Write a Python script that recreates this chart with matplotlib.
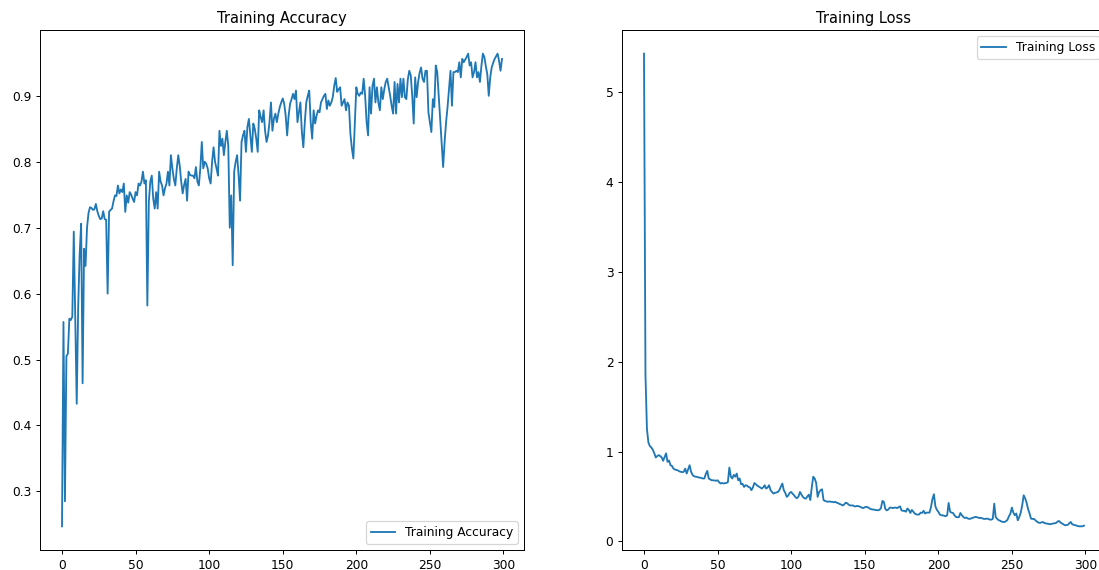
import matplotlib
matplotlib.use('Agg')
import matplotlib.pyplot as plt

# values, one per epoch
acc = [
	0.247, 0.557, 0.285, 0.505, 0.509, 0.562, 0.560, 0.565, 0.694, 0.560,
	0.433, 0.580, 0.660, 0.706, 0.464, 0.668, 0.642, 0.700, 0.722, 0.731,
	0.730, 0.727, 0.728, 0.736, 0.725, 0.718, 0.713, 0.714, 0.725, 0.713,
	0.712, 0.600, 0.724, 0.727, 0.729, 0.740, 0.749, 0.748, 0.764, 0.752,
	0.758, 0.754, 0.767, 0.724, 0.749, 0.738, 0.754, 0.750, 0.744, 0.739,
	0.754, 0.749, 0.767, 0.764, 0.770, 0.785, 0.767, 0.772, 0.582, 0.739,
	0.770, 0.779, 0.744, 0.729, 0.754, 0.729, 0.785, 0.770, 0.764, 0.749,
	0.760, 0.767, 0.785, 0.764, 0.810, 0.790, 0.774, 0.764, 0.790, 0.810,
	0.794, 0.770, 0.752, 0.765, 0.774, 0.741, 0.785, 0.780, 0.779, 0.779,
	0.775, 0.792, 0.770, 0.764, 0.790, 0.830, 0.790, 0.800, 0.797, 0.790,
	0.775, 0.767, 0.800, 0.822, 0.800, 0.790, 0.779, 0.847, 0.824, 0.835,
	0.810, 0.830, 0.847, 0.824, 0.700, 0.749, 0.643, 0.785, 0.800, 0.810,
	0.780, 0.741, 0.830, 0.840, 0.847, 0.815, 0.853, 0.865, 0.840, 0.815,
	0.858, 0.850, 0.835, 0.815, 0.878, 0.868, 0.860, 0.878, 0.847, 0.830,
	0.840, 0.860, 0.890, 0.847, 0.865, 0.873, 0.860, 0.873, 0.883, 0.890,
	0.896, 0.888, 0.870, 0.840, 0.870, 0.888, 0.895, 0.903, 0.895, 0.908,
	0.860, 0.875, 0.890, 0.845, 0.822, 0.860, 0.890, 0.900, 0.908, 0.860,
	0.835, 0.878, 0.858, 0.870, 0.878, 0.875, 0.890, 0.895, 0.900, 0.903,
	0.880, 0.893, 0.885, 0.890, 0.898, 0.915, 0.927, 0.906, 0.910, 0.913,
	0.885, 0.890, 0.895, 0.878, 0.890, 0.885, 0.842, 0.820, 0.805, 0.860,
	0.913, 0.903, 0.900, 0.905, 0.903, 0.926, 0.900, 0.860, 0.840, 0.913,
	0.873, 0.915, 0.926, 0.890, 0.913, 0.890, 0.878, 0.913, 0.895, 0.910,
	0.921, 0.926, 0.913, 0.900, 0.885, 0.873, 0.921, 0.873, 0.918, 0.890,
	0.926, 0.898, 0.926, 0.898, 0.895, 0.925, 0.938, 0.931, 0.900, 0.858,
	0.928, 0.898, 0.921, 0.935, 0.943, 0.926, 0.921, 0.938, 0.938, 0.875,
	0.860, 0.845, 0.895, 0.883, 0.946, 0.936, 0.900, 0.865, 0.830, 0.792,
	0.830, 0.860, 0.883, 0.910, 0.938, 0.885, 0.936, 0.936, 0.938, 0.936,
	0.951, 0.928, 0.956, 0.951, 0.955, 0.959, 0.964, 0.946, 0.951, 0.928,
	0.936, 0.951, 0.928, 0.936, 0.921, 0.945, 0.964, 0.959, 0.945, 0.933,
	0.900, 0.928, 0.943, 0.950, 0.956, 0.960, 0.964, 0.953, 0.938, 0.956,
]

loss = [
	5.430, 1.850, 1.250, 1.100, 1.060, 1.045, 1.020, 0.980, 0.934, 0.950,
	0.960, 0.950, 0.935, 0.897, 0.940, 0.980, 0.885, 0.900, 0.848, 0.840,
	0.810, 0.800, 0.795, 0.790, 0.780, 0.774, 0.770, 0.775, 0.810, 0.755,
	0.800, 0.848, 0.774, 0.740, 0.725, 0.720, 0.718, 0.712, 0.710, 0.705,
	0.700, 0.700, 0.750, 0.785, 0.700, 0.690, 0.680, 0.680, 0.677, 0.675,
	0.680, 0.660, 0.644, 0.650, 0.645, 0.648, 0.650, 0.660, 0.822, 0.720,
	0.700, 0.740, 0.720, 0.755, 0.680, 0.700, 0.636, 0.640, 0.606, 0.625,
	0.620, 0.606, 0.600, 0.570, 0.600, 0.650, 0.636, 0.620, 0.610, 0.600,
	0.588, 0.600, 0.625, 0.588, 0.600, 0.625, 0.570, 0.550, 0.532, 0.540,
	0.545, 0.550, 0.570, 0.610, 0.644, 0.570, 0.540, 0.495, 0.510, 0.540,
	0.550, 0.530, 0.513, 0.490, 0.480, 0.500, 0.550, 0.520, 0.495, 0.480,
	0.476, 0.500, 0.520, 0.460, 0.600, 0.720, 0.700, 0.650, 0.495, 0.550,
	0.570, 0.580, 0.460, 0.450, 0.445, 0.440, 0.445, 0.440, 0.440, 0.435,
	0.440, 0.430, 0.425, 0.415, 0.410, 0.400, 0.410, 0.430, 0.425, 0.410,
	0.400, 0.400, 0.400, 0.390, 0.390, 0.395, 0.390, 0.385, 0.376, 0.370,
	0.380, 0.385, 0.380, 0.370, 0.360, 0.355, 0.355, 0.350, 0.348, 0.346,
	0.350, 0.370, 0.450, 0.440, 0.360, 0.345, 0.355, 0.375, 0.376, 0.370,
	0.375, 0.376, 0.370, 0.380, 0.390, 0.345, 0.340, 0.340, 0.330, 0.366,
	0.350, 0.316, 0.350, 0.330, 0.310, 0.300, 0.298, 0.300, 0.320, 0.317,
	0.340, 0.310, 0.320, 0.320, 0.320, 0.380, 0.470, 0.525, 0.390, 0.350,
	0.330, 0.300, 0.290, 0.290, 0.285, 0.280, 0.290, 0.428, 0.330, 0.320,
	0.316, 0.290, 0.272, 0.268, 0.270, 0.316, 0.290, 0.272, 0.260, 0.265,
	0.255, 0.250, 0.253, 0.260, 0.265, 0.272, 0.270, 0.265, 0.260, 0.262,
	0.255, 0.250, 0.250, 0.253, 0.250, 0.242, 0.242, 0.250, 0.420, 0.270,
	0.250, 0.236, 0.230, 0.220, 0.216, 0.216, 0.225, 0.240, 0.280, 0.310,
	0.376, 0.320, 0.290, 0.310, 0.234, 0.270, 0.320, 0.400, 0.513, 0.480,
	0.430, 0.360, 0.310, 0.253, 0.250, 0.250, 0.235, 0.220, 0.210, 0.205,
	0.210, 0.216, 0.205, 0.200, 0.198, 0.195, 0.190, 0.195, 0.198, 0.200,
	0.205, 0.220, 0.227, 0.210, 0.200, 0.190, 0.180, 0.180, 0.185, 0.200,
	0.216, 0.190, 0.185, 0.180, 0.175, 0.170, 0.167, 0.167, 0.168, 0.175,
]

epochs = list(range(len(acc)))

# original looks like a default figure shrunk a bit, so render at a lower dpi
dpi = 88
fig = plt.figure(figsize=(1099/dpi, 570/dpi), dpi=dpi)

# the right panel runs off the edge, as in the cropped original
ax1 = fig.add_axes([40/1099, 20/570, 484/1099, 520/570])
ax1.plot(epochs, acc, label='Training Accuracy')
ax1.legend(loc='lower right')
ax1.set_title('Training Accuracy')

ax2 = fig.add_axes([622/1099, 20/570, 484/1099, 520/570])
ax2.plot(epochs, loss, label='Training Loss')
ax2.legend(loc='upper right')
ax2.set_title('Training Loss')

plt.savefig('out.png', dpi=dpi)
